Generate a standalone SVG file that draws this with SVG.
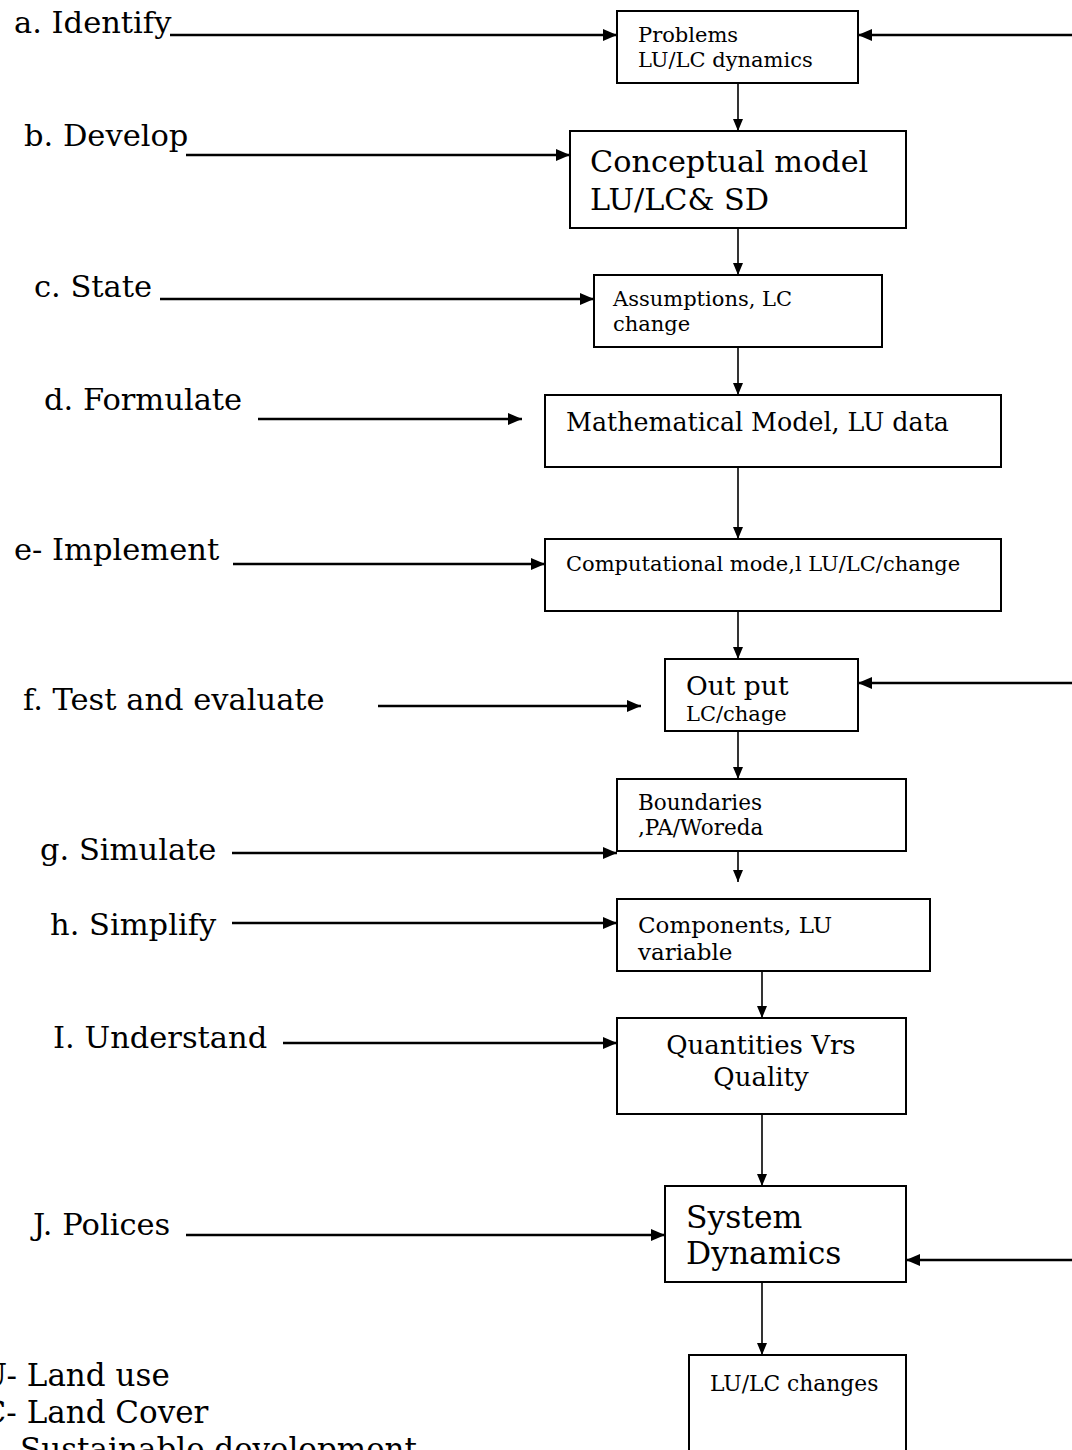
<svg xmlns="http://www.w3.org/2000/svg" width="1072" height="1450" viewBox="0 0 1072 1450">
  <defs>
    <marker id="arrow" viewBox="0 0 12 10" refX="12" refY="5" markerWidth="12" markerHeight="10" markerUnits="userSpaceOnUse" orient="auto">
      <path d="M0,0 L12,5 L0,10 z" fill="#000"/>
    </marker>
    <marker id="arrowWide" viewBox="0 0 14 12" refX="14" refY="6" markerWidth="14" markerHeight="12" markerUnits="userSpaceOnUse" orient="auto">
      <path d="M0,0 L14,6 L0,12 z" fill="#000"/>
    </marker>
    <clipPath id="clipOutput">
      <rect x="665" y="659" width="193" height="71"/>
    </clipPath>
  </defs>
  <style>
    text { font-family: "DejaVu Serif", "Liberation Serif", serif; fill: #000; }
    .step { font-size: 30.5px; }
    .legend { font-size: 31px; }
    .box { fill: #fff; stroke: #000; stroke-width: 2; }
    .feed { stroke: #000; stroke-width: 2.6; fill: none; marker-end: url(#arrowWide); }
    .flow { stroke: #000; stroke-width: 1.6; fill: none; marker-end: url(#arrow); }
  </style>
  <rect width="1072" height="1450" fill="#fff"/>

  <!-- step labels on the left -->
  <g id="labels">
    <text class="step" x="14" y="33">a. Identify</text>
    <text class="step" x="24" y="146">b. Develop</text>
    <text class="step" x="34" y="297">c. State</text>
    <text class="step" x="44" y="410">d. Formulate</text>
    <text class="step" x="14" y="560">e- Implement</text>
    <text class="step" x="23" y="710">f. Test and evaluate</text>
    <text class="step" x="40" y="860">g. Simulate</text>
    <text class="step" x="50" y="935">h. Simplify</text>
    <text class="step" x="53" y="1048">I. Understand</text>
    <text class="step" x="33" y="1235">J. Polices</text>
  </g>

  <!-- abbreviations -->
  <g id="legend">
    <text class="legend" x="-38" y="1386">LU- Land use</text>
    <text class="legend" x="-38" y="1423">LC- Land Cover</text>
    <text class="legend" x="-47" y="1460">SD- Sustainable development</text>
  </g>

  <g id="connectors">
    <!-- step inputs -->
    <line class="feed" x1="170" y1="35" x2="617" y2="35"/>
    <line class="feed" x1="186" y1="155" x2="570" y2="155"/>
    <line class="feed" x1="160" y1="299" x2="594" y2="299"/>
    <line class="feed" x1="258" y1="419" x2="522" y2="419"/>
    <line class="feed" x1="233" y1="564" x2="545" y2="564"/>
    <line class="feed" x1="378" y1="706" x2="641" y2="706"/>
    <line class="feed" x1="232" y1="853" x2="617" y2="853"/>
    <line class="feed" x1="232" y1="923" x2="617" y2="923"/>
    <line class="feed" x1="283" y1="1043" x2="617" y2="1043"/>
    <line class="feed" x1="186" y1="1235" x2="665" y2="1235"/>
    <!-- feedback from the right -->
    <line class="feed" x1="1072" y1="35" x2="858" y2="35"/>
    <line class="feed" x1="1072" y1="683" x2="858" y2="683"/>
    <line class="feed" x1="1072" y1="1260" x2="906" y2="1260"/>
    <!-- main flow -->
    <line class="flow" x1="738" y1="83" x2="738" y2="131"/>
    <line class="flow" x1="738" y1="228" x2="738" y2="275"/>
    <line class="flow" x1="738" y1="347" x2="738" y2="395"/>
    <line class="flow" x1="738" y1="467" x2="738" y2="539"/>
    <line class="flow" x1="738" y1="611" x2="738" y2="659"/>
    <line class="flow" x1="738" y1="731" x2="738" y2="779"/>
    <line class="flow" x1="738" y1="851" x2="738" y2="882"/>
    <line class="flow" x1="762" y1="971" x2="762" y2="1018"/>
    <line class="flow" x1="762" y1="1114" x2="762" y2="1186"/>
    <line class="flow" x1="762" y1="1282" x2="762" y2="1355"/>
  </g>

  <g id="problems">
    <rect class="box" x="617" y="11" width="241" height="72"/>
    <text x="638" y="42" font-size="21">Problems</text>
    <text x="638" y="67" font-size="21">LU/LC dynamics</text>
  </g>

  <g id="conceptual">
    <rect class="box" x="570" y="131" width="336" height="97"/>
    <text x="590" y="172" font-size="30.3">Conceptual model</text>
    <text x="590" y="210" font-size="30.3">LU/LC&amp; SD</text>
  </g>

  <g id="assumptions">
    <rect class="box" x="594" y="275" width="288" height="72"/>
    <text x="613" y="306" font-size="21">Assumptions, LC</text>
    <text x="613" y="331" font-size="21">change</text>
  </g>

  <g id="mathematical">
    <rect class="box" x="545" y="395" width="456" height="72"/>
    <text x="566" y="431" font-size="25.3">Mathematical Model, LU data</text>
  </g>

  <g id="computational">
    <rect class="box" x="545" y="539" width="456" height="72"/>
    <text x="566" y="571" font-size="21">Computational mode,l LU/LC/change</text>
  </g>

  <g id="output">
    <rect class="box" x="665" y="659" width="193" height="72"/>
    <g clip-path="url(#clipOutput)">
      <text x="686" y="695" font-size="26.5">Out put</text>
      <text x="686" y="721" font-size="21">LC/chage</text>
    </g>
  </g>

  <g id="boundaries">
    <rect class="box" x="617" y="779" width="289" height="72"/>
    <text x="638" y="810" font-size="21.5">Boundaries</text>
    <text x="638" y="835" font-size="21.5">,PA/Woreda</text>
  </g>

  <g id="components">
    <rect class="box" x="617" y="899" width="313" height="72"/>
    <text x="638" y="933" font-size="23">Components, LU</text>
    <text x="638" y="960" font-size="23">variable</text>
  </g>

  <g id="quantities">
    <rect class="box" x="617" y="1018" width="289" height="96"/>
    <text x="761" y="1054" font-size="26" text-anchor="middle">Quantities Vrs</text>
    <text x="761" y="1086" font-size="26" text-anchor="middle">Quality</text>
  </g>

  <g id="system-dynamics">
    <rect class="box" x="665" y="1186" width="241" height="96"/>
    <text x="686" y="1228" font-size="31.4">System</text>
    <text x="686" y="1264" font-size="31.4">Dynamics</text>
  </g>

  <g id="changes">
    <rect class="box" x="689" y="1355" width="217" height="110"/>
    <text x="710" y="1391" font-size="21.8">LU/LC changes</text>
  </g>
</svg>
